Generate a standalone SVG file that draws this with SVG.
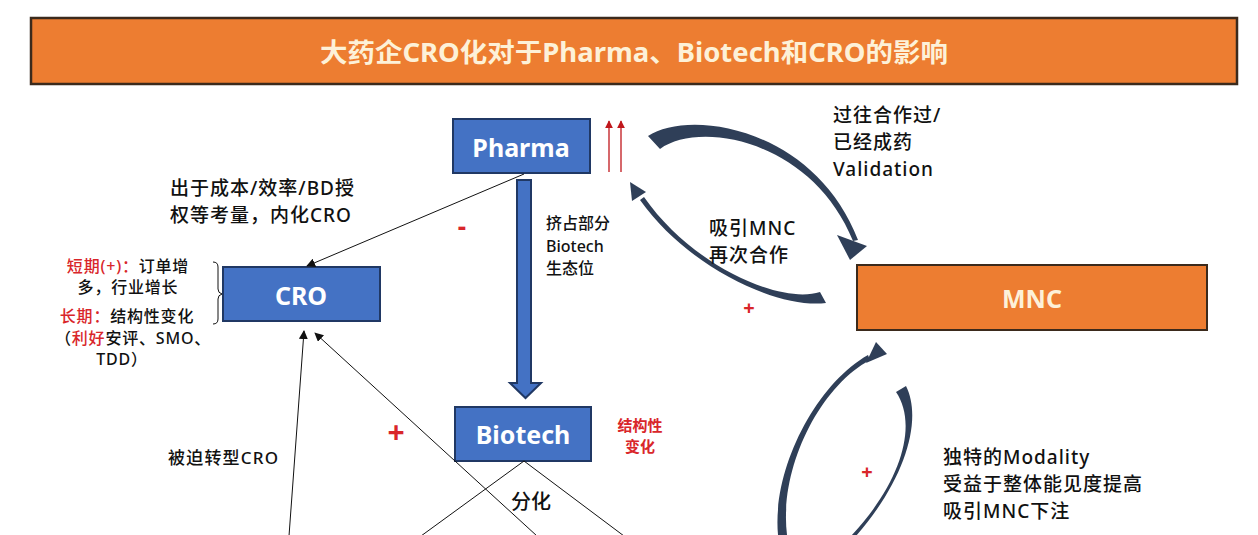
<svg xmlns="http://www.w3.org/2000/svg" width="1258" height="535" viewBox="0 0 1258 535">
<style>
text{font-family:"Noto Sans","Noto Sans CJK SC",sans-serif;dominant-baseline:central;font-weight:500}
.box{fill:#4472C4;stroke:#203864;stroke-width:2}
.boxt{fill:#fff;font-weight:bold;font-size:25px;text-anchor:middle}
.lbl{fill:#111;font-size:19px;letter-spacing:1px}
.sm{fill:#111;font-size:16px;text-anchor:middle;letter-spacing:0.8px}
.red{fill:#d9262a}
.ln{stroke:#111;stroke-width:1;fill:none;marker-end:url(#ah)}
.ln0{stroke:#111;stroke-width:1;fill:none}
.arc{fill:#2f3f58}
</style>
<defs>
<marker id="ah" viewBox="0 0 10 10" refX="9" refY="5" markerWidth="9" markerHeight="9" markerUnits="userSpaceOnUse" orient="auto"><path d="M0,0 L10,5 L0,10 z" fill="#111"/></marker>
<marker id="rah" viewBox="0 0 10 10" refX="9" refY="5" markerWidth="8" markerHeight="10" markerUnits="userSpaceOnUse" orient="auto"><path d="M0,0 L10,5 L0,10 z" fill="#c0171c"/></marker>
</defs>
<rect width="1258" height="535" fill="#fff"/>
<g id="title">
<rect x="31" y="18" width="1206" height="66" fill="#ED7D31" stroke="#3b2a1c" stroke-width="2.5"/>
<text x="634" y="52" font-size="26" fill="#fdf1d8" text-anchor="middle" textLength="628" lengthAdjust="spacingAndGlyphs" style="font-weight:bold">大药企CRO化对于Pharma、Biotech和CRO的影响</text>
</g>
<g id="pharma">
<rect class="box" x="453" y="119" width="137" height="54"/>
<text class="boxt" x="521" y="147">Pharma</text>
</g>
<g id="cro">
<rect class="box" x="223" y="267" width="157" height="54"/>
<text class="boxt" x="301" y="295">CRO</text>
</g>
<g id="biotech">
<rect class="box" x="455" y="407" width="136" height="54"/>
<text class="boxt" x="523" y="434">Biotech</text>
</g>
<g id="mnc">
<rect x="857" y="265" width="350" height="65" fill="#ED7D31" stroke="#3b2a1c" stroke-width="2"/>
<text x="1032" y="298" font-size="25" fill="#fdf1d8" text-anchor="middle" style="font-weight:bold">MNC</text>
</g>
<g id="connectors">
<path d="M517,180 H531 V383 H541 L525.5,398 L510,383 H517 Z" fill="#4472C4" stroke="#203864" stroke-width="2"/>
<line x1="609" y1="172" x2="609" y2="121" stroke="#c0171c" stroke-width="1.3" marker-end="url(#rah)"/>
<line x1="621" y1="172" x2="621" y2="121" stroke="#c0171c" stroke-width="1.3" marker-end="url(#rah)"/>
<line class="ln" x1="524" y1="174" x2="307" y2="266"/>
<line class="ln" x1="289" y1="536" x2="304" y2="331"/>
<line class="ln" x1="537" y1="536" x2="315" y2="333"/>
<line class="ln0" x1="524" y1="461" x2="421" y2="536"/>
<line class="ln0" x1="524" y1="461" x2="624" y2="536"/>
<path class="ln0" d="M213,262 Q218,262 218,267 V289 Q218,293 222,294 Q218,295 218,299 V319 Q218,324 213,324"/>
<path class="arc" d="M648,136 C690,108 815,128 858,240 L853,241 C812,140 700,120 660,149 Z"/>
<path class="arc" d="M837,235 L867,246 L850,260 Z"/>
<path class="arc" d="M826,303 C780,309 690,270 640,200 L644,197 C692,266 781,305 820,292 Z"/>
<path class="arc" d="M630,182 L646,192 L632,201 Z"/>
<path class="arc" d="M778,535 C772,470 815,385 868,355 L870,360 C818,388 779,470 787,535 Z"/>
<path class="arc" d="M876,342 L887,354 L866,363 Z"/>
<path class="arc" d="M906,386 C923,420 905,480 856,536 L851,536 C902,482 918,424 896,392 Z"/>
</g>
<g id="labels">
<text class="lbl" x="170" y="188">出于成本/效率/BD授</text>
<text class="lbl" x="170" y="215">权等考量，内化CRO</text>
<text class="sm" x="128" y="266"><tspan class="red">短期(+)：</tspan>订单增</text>
<text class="sm" x="128" y="287">多，行业增长</text>
<text class="sm" x="127" y="316"><tspan class="red">长期：</tspan>结构性变化</text>
<text class="sm" x="133" y="338">（<tspan class="red">利好</tspan>安评、SMO、</text>
<text class="sm" x="122" y="359">TDD）</text>
<text x="462" y="226" font-size="26" class="red" text-anchor="middle" style="font-weight:bold">-</text>
<text x="546" y="223" font-size="16" fill="#111">挤占部分</text>
<text x="546" y="246" font-size="16" fill="#111">Biotech</text>
<text x="546" y="268" font-size="16" fill="#111">生态位</text>
<text class="lbl" x="709" y="228">吸引MNC</text>
<text class="lbl" x="709" y="255">再次合作</text>
<text x="749" y="307" font-size="20" class="red" text-anchor="middle" style="font-weight:bold">+</text>
<text class="lbl" x="833" y="115">过往合作过/</text>
<text class="lbl" x="833" y="142">已经成药</text>
<text class="lbl" x="833" y="169">Validation</text>
<text x="396" y="431" font-size="30" class="red" text-anchor="middle" style="font-weight:bold">+</text>
<text x="640" y="425" font-size="15" class="red" text-anchor="middle" style="font-weight:bold">结构性</text>
<text x="640" y="446" font-size="15" class="red" text-anchor="middle" style="font-weight:bold">变化</text>
<text x="168" y="457" font-size="17" fill="#111" letter-spacing="1.2">被迫转型CRO</text>
<text x="511" y="501" font-size="20" fill="#111">分化</text>
<text x="867" y="471" font-size="20" class="red" text-anchor="middle" style="font-weight:bold">+</text>
<text class="lbl" x="943" y="457">独特的Modality</text>
<text class="lbl" x="943" y="484">受益于整体能见度提高</text>
<text class="lbl" x="943" y="511">吸引MNC下注</text>
</g>
</svg>
